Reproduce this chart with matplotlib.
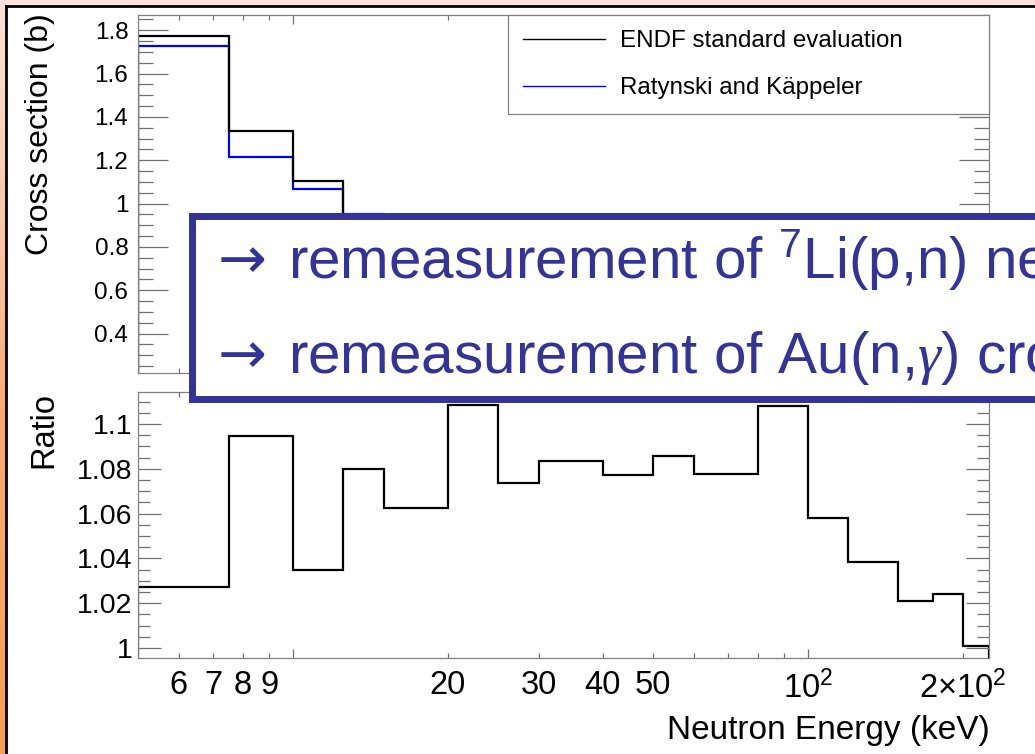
import numpy as np
import matplotlib
matplotlib.use("Agg")
import matplotlib.pyplot as plt
from matplotlib.lines import Line2D
from matplotlib.patches import Rectangle
from matplotlib.colors import LinearSegmentedColormap
from matplotlib.ticker import (FixedLocator, FixedFormatter, MultipleLocator,
                               FormatStrFormatter)

plt.rcParams["font.family"] = ["Liberation Sans", "DejaVu Sans"]
plt.rcParams["mathtext.fontset"] = "custom"
plt.rcParams["mathtext.rm"] = "Liberation Sans"
plt.rcParams["mathtext.it"] = "Liberation Serif:italic"
plt.rcParams["mathtext.default"] = "regular"

# ── data (Au(n,g) cross section, keV bins) ─────────────────────────────────
edges = [5, 7.5, 10, 12.5, 15, 20, 25, 30, 40, 50, 60, 80, 100, 120, 150, 175, 200, 225]
endf = [1.774, 1.333, 1.106, 0.950, 0.820, 0.680, 0.620, 0.550, 0.480, 0.430,
        0.380, 0.330, 0.300, 0.270, 0.250, 0.235, 0.222]
ratynski = [1.725, 1.215, 1.067, 0.880, 0.772, 0.613, 0.578, 0.508, 0.446, 0.396,
            0.353, 0.298, 0.284, 0.260, 0.245, 0.230, 0.222]
ratio = [1.0271, 1.0948, 1.0347, 1.0799, 1.0624, 1.1085, 1.0735, 1.0835, 1.0772,
         1.0856, 1.0775, 1.1080, 1.0580, 1.0385, 1.0211, 1.0240, 1.0010]
series_names = ["ENDF standard evaluation", "Ratynski and Käppeler"]

major_x = [10, 100]
major_x_labels = ["", "$10^{2}$"]
minor_x = [6, 7, 8, 9, 20, 30, 40, 50, 60, 70, 80, 90, 200]
minor_x_labels = ["6", "7", "8", "9", "20", "30", "40", "50", "", "", "", "",
                  "$2{\\times}10^{2}$"]

box_arrow = "→"
box_lines = ["remeasurement of $^{\\mathrm{7}}$Li(p,n) neutron spectrum",
             "remeasurement of Au(n,$\\mathit{\\gamma}$) cross section"]

# ── figure ─────────────────────────────────────────────────────────────────
W, H = 1035, 754
fig = plt.figure(figsize=(W / 100, H / 100), dpi=100)
fig.patch.set_facecolor("white")

# slide background peeking out on the left / top
bg = fig.add_axes([0, 0, 1, 1], zorder=-10)
bg.set_xlim(0, W)
bg.set_ylim(H, 0)
bg.axis("off")
cmap = LinearSegmentedColormap.from_list(
    "slide", [(0, "#fce2d6"), (0.33, "#f9c3a4"), (0.55, "#f9aa6c"), (1, "#f8a050")])
bg.imshow(np.linspace(0, 1, 200)[:, None], cmap=cmap, aspect="auto",
          extent=(0, 6, H, 0))
bg.add_patch(Rectangle((0, 0), W, 6, color="#fce4da"))
bg.plot([6, 6], [6, H], color="black", lw=2)
bg.plot([6, W], [6, 6], color="black", lw=2)

ax1 = fig.add_axes([138 / W, 1 - 373 / H, 851 / W, 358 / H])
ax2 = fig.add_axes([138 / W, 1 - 658 / H, 851 / W, 266 / H])

ax1.stairs(ratynski, edges, color="#0000ff", lw=1.6)
ax1.stairs(endf, edges, color="black", lw=1.6)
ax2.stairs(ratio, edges, color="black", lw=1.6)

for ax in (ax1, ax2):
    ax.set_xscale("log")
    ax.set_xlim(edges[0], edges[-1])
    ax.xaxis.set_major_locator(FixedLocator(major_x))
    ax.xaxis.set_minor_locator(FixedLocator(minor_x))
    ax.xaxis.set_major_formatter(FixedFormatter(major_x_labels))
    ax.xaxis.set_minor_formatter(FixedFormatter(minor_x_labels))
    ax.yaxis.set_major_formatter(FormatStrFormatter("%g"))
    for s in ax.spines.values():
        s.set_color("#808080")
        s.set_linewidth(0.9)
    ax.tick_params(which="both", direction="in", top=True, right=True,
                   color="#707070", width=0.9)
    ax.tick_params(axis="x", which="major", length=6.5)
    ax.tick_params(axis="x", which="minor", length=3.5)

ax1.set_ylim(0.218, 1.87)
ax1.yaxis.set_major_locator(MultipleLocator(0.2))
ax1.yaxis.set_minor_locator(MultipleLocator(0.05))
ax1.tick_params(axis="y", which="major", length=21.5, labelsize=17.5, pad=7)
ax1.tick_params(axis="y", which="minor", length=11)
ax1.tick_params(axis="x", which="both", labelbottom=False)

ax2.set_ylim(0.99554, 1.1143)
ax2.yaxis.set_major_locator(MultipleLocator(0.02))
ax2.yaxis.set_minor_locator(MultipleLocator(0.005))
ax2.tick_params(axis="y", which="major", length=16.5, labelsize=20.5, pad=4)
ax2.tick_params(axis="y", which="minor", length=8.5)
ax2.tick_params(axis="x", which="both", labelsize=23.5, pad=9)

fig.text(40 / W, 1 - 13 / H, "Cross section (b)", rotation=90, ha="center",
         va="top", fontsize=23)
fig.text(44 / W, 1 - 392 / H, "Ratio", rotation=90, ha="center", va="top",
         fontsize=23.5)
fig.text(990 / W, 1 - 730 / H, "Neutron Energy (keV)", ha="right",
         va="center", fontsize=24)

handles = [Line2D([], [], color="black", lw=1.0),
           Line2D([], [], color="#0000ff", lw=1.0)]
leg = ax1.legend(handles, series_names, loc="upper left",
                 bbox_to_anchor=(508 / W, 1 - 114 / H, 481 / W, 99 / H),
                 bbox_transform=fig.transFigure, mode="expand", borderaxespad=0,
                 fontsize=17.4, labelspacing=1.05, borderpad=0.62,
                 handlelength=3.4, handletextpad=0.6, fancybox=False,
                 framealpha=1, edgecolor="#808080")
leg.get_frame().set_linewidth(0.9)

# overlaid slide text box
fig.add_artist(Rectangle((191.5 / W, 1 - 398.5 / H), (1100 - 191.5) / W,
                         (398.5 - 215.5) / H, transform=fig.transFigure,
                         facecolor="white", edgecolor="#333399", lw=5.0,
                         zorder=10))
for base_y, line in zip([278, 373], box_lines):
    fig.text(218 / W, 1 - base_y / H, box_arrow, fontsize=42, color="#333399",
             family="DejaVu Sans", va="baseline", ha="left", zorder=11)
    fig.text(288 / W, 1 - base_y / H, line, fontsize=42, color="#333399",
             va="baseline", ha="left", zorder=11)

fig.savefig("out.png", dpi=100)
